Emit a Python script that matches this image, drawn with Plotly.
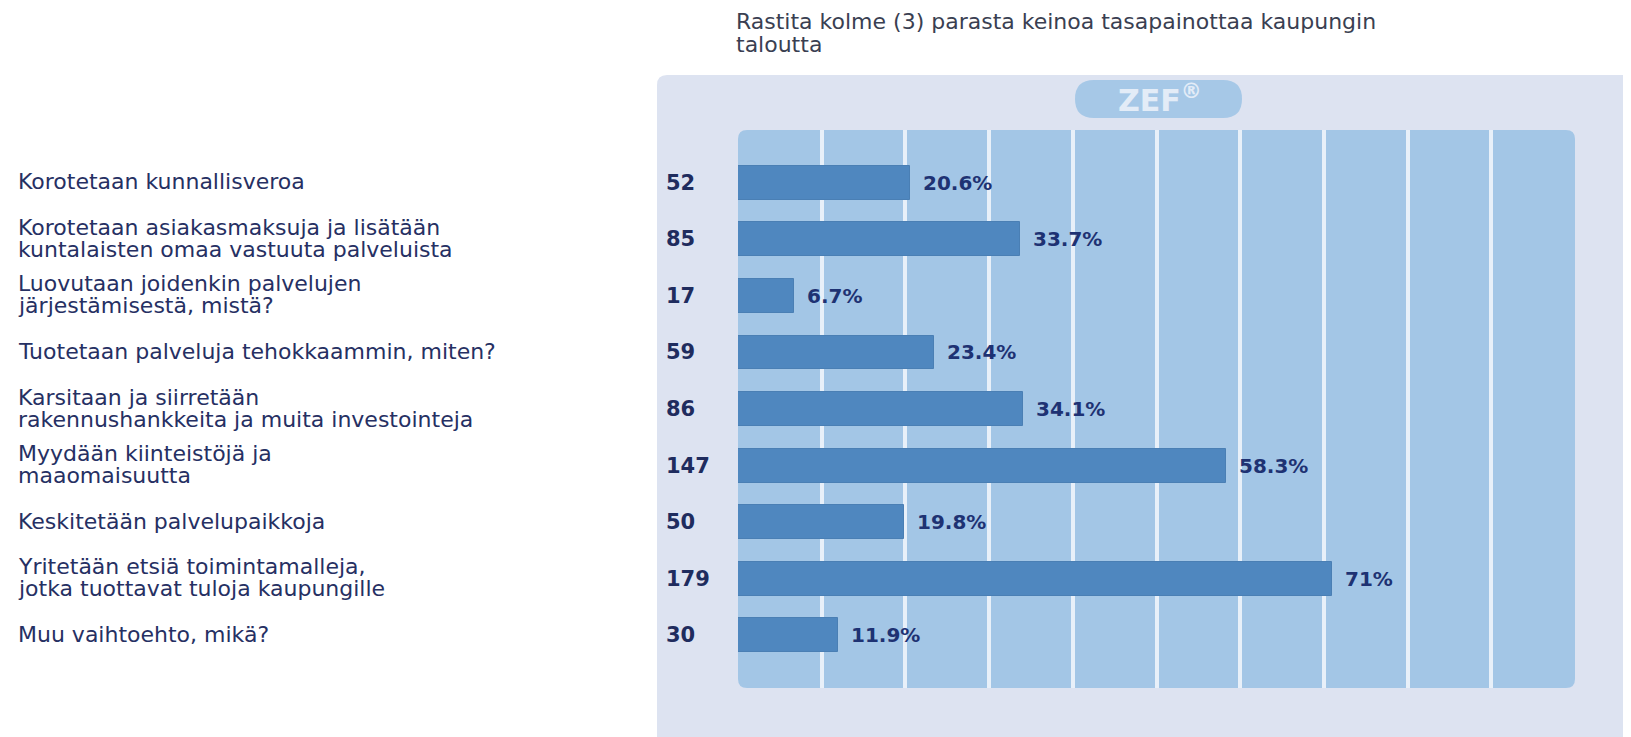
import plotly.graph_objects as go

# survey answers
categories = [
    "Korotetaan kunnallisveroa",
    "Korotetaan asiakasmaksuja ja lisätään<br>kuntalaisten omaa vastuuta palveluista",
    "Luovutaan joidenkin palvelujen<br>järjestämisestä, mistä?",
    "Tuotetaan palveluja tehokkaammin, miten?",
    "Karsitaan ja siirretään<br>rakennushankkeita ja muita investointeja",
    "Myydään kiinteistöjä ja<br>maaomaisuutta",
    "Keskitetään palvelupaikkoja",
    "Yritetään etsiä toimintamalleja,<br>jotka tuottavat tuloja kaupungille",
    "Muu vaihtoehto, mikä?",
]
counts = [52, 85, 17, 59, 86, 147, 50, 179, 30]
percents = [20.6, 33.7, 6.7, 23.4, 34.1, 58.3, 19.8, 71, 11.9]
title = "Rastita kolme (3) parasta keinoa tasapainottaa kaupungin<br>taloutta"

W, H = 1631, 737
# plot area as it should appear on screen
ML, MR, MT, MB = 738, 56, 130, 49
PW, PH = W - ML - MR, H - MT - MB
BODY = 8  # browser default body margin shifts the figure

NAVY = "#1f2c5e"
PANEL = "#dde3f1"
PLOT_BG = "#a3c6e6"
BAR = "#4f87bf"
LINE_GAP = 22


def px_x(px):
    return (px - ML) / PW


def px_y(py):
    return 1 + (MT - py) / PH


def rounded(x0, y0, x1, y1, r):
    # rounded rectangle in paper coords, r in pixels
    rx, ry = r / PW, r / PH
    return (f"M {x0+rx},{y1} L {x1-rx},{y1} Q {x1},{y1} {x1},{y1-ry} "
            f"L {x1},{y0+ry} Q {x1},{y0} {x1-rx},{y0} "
            f"L {x0+rx},{y0} Q {x0},{y0} {x0},{y0+ry} "
            f"L {x0},{y1-ry} Q {x0},{y1} {x0+rx},{y1} Z")


fig = go.Figure()
fig.add_trace(go.Bar(
    x=percents, y=categories, orientation="h", width=0.6,
    marker=dict(color=BAR, line=dict(color="#4a7fb4", width=1)),
    hoverinfo="skip", showlegend=False,
))

shapes = [
    # outer panel
    dict(type="path", xref="paper", yref="paper", layer="below",
         path=rounded(px_x(657), -0.3, 1.3, px_y(75), 10),
         fillcolor=PANEL, line=dict(width=0)),
    # inner plot area
    dict(type="path", xref="paper", yref="paper", layer="below",
         path=rounded(0, 0, 1, 1, 9),
         fillcolor=PLOT_BG, line=dict(width=0)),
    # logo pill
    dict(type="path", xref="paper", yref="paper", layer="below",
         path=rounded(px_x(1075), px_y(118), px_x(1242), px_y(80), 19),
         fillcolor="#a6c8e7", line=dict(width=0)),
]

annotations = [
    dict(text="ZEF<sup>®</sup>", xref="paper", yref="paper", x=px_x(1160), y=px_y(99),
         xanchor="center", yanchor="middle", showarrow=False,
         font=dict(family="DejaVu Sans", size=30, color="#e3ecf7", weight="bold")),
]

# title, one annotation per line to keep the tight line spacing
for i, line in enumerate(title.split("<br>")):
    annotations.append(dict(
        text=line, xref="paper", yref="paper", x=px_x(734), y=px_y(22 + 22 * i),
        xanchor="left", yanchor="middle", showarrow=False,
        font=dict(family="DejaVu Sans", size=22, color="#3a3f52")))

for cat, n, p in zip(categories, counts, percents):
    lines = cat.split("<br>")
    for i, line in enumerate(lines):
        annotations.append(dict(
            text=line, xref="paper", yref="y", x=px_x(16), y=cat,
            yshift=((len(lines) - 1) / 2 - i) * LINE_GAP + 1,
            xanchor="left", yanchor="middle", showarrow=False,
            font=dict(family="DejaVu Sans", size=22, color="#263063")))
    annotations.append(dict(
        text=str(n), xref="paper", yref="y", x=px_x(664), y=cat,
        xanchor="left", yanchor="middle", showarrow=False,
        font=dict(family="DejaVu Sans", size=21, color=NAVY, weight="bold")))
    annotations.append(dict(
        text=f"{p:g}%", xref="x", yref="y", x=p, y=cat, xshift=11,
        xanchor="left", yanchor="middle", showarrow=False,
        font=dict(family="DejaVu Sans", size=20, color="#1e3273", weight="bold")))

fig.update_layout(
    width=W, height=H,
    margin=dict(l=ML - BODY, r=MR + BODY, t=MT - BODY, b=MB + BODY),
    paper_bgcolor="white", plot_bgcolor="rgba(0,0,0,0)",
    xaxis=dict(range=[0, 100], tickvals=list(range(10, 100, 10)), showticklabels=False,
               showgrid=True, gridcolor="#e8f0f9", gridwidth=4,
               zeroline=False, showline=False, fixedrange=True),
    yaxis=dict(range=[len(categories) - 1 + 0.935, -0.935], showticklabels=False,
               showgrid=False, zeroline=False, showline=False, fixedrange=True),
    shapes=shapes, annotations=annotations,
    bargap=0,
)

fig.write_html("out.html")
